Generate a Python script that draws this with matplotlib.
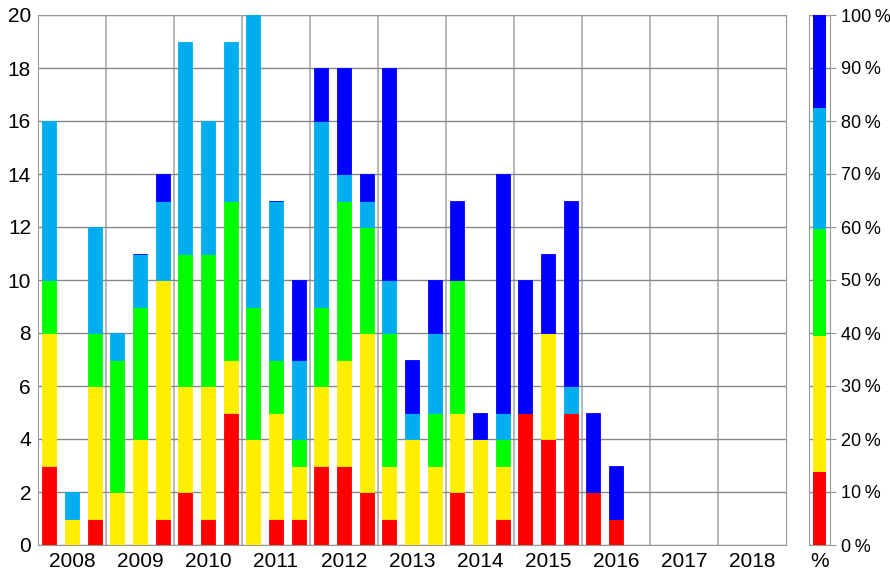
import numpy as np
import matplotlib
matplotlib.use("Agg")
import matplotlib.pyplot as plt

# one bar per third of a year, 2008 .. 2016 (nan = segment not present, 0 = empty segment)
nan = np.nan
years = list(range(2008, 2019))
red = [3, 0, 1, 0, 0, 1, 2, 1, 5, 0, 1, 1, 3, 3, 2, 1, 0, 0, 2, 0, 1, 5, 4, 5, 2, 1]
yellow = [5, 1, 5, 2, 4, 9, 4, 5, 2, 4, 4, 2, 3, 4, 6, 2, 4, 3, 3, 4, 2, nan, 4, nan, nan, nan]
green = [2, nan, 2, 5, 5, nan, 5, 5, 6, 5, 2, 1, 3, 6, 4, 5, nan, 2, 5, nan, 1, nan, nan, nan, nan, nan]
lightblue = [6, 1, 4, 1, 2, 3, 8, 5, 6, 11, 6, 3, 7, 1, 1, 2, 1, 3, 0, 0, 1, 0, 0, 1, 0, 0]
blue = [nan, nan, nan, nan, 0, 1, nan, nan, nan, nan, 0, 3, 2, 4, 1, 8, 2, 2, 3, 1, 9, 5, 3, 7, 3, 2]

series = [red, yellow, green, lightblue, blue]
colors = ["#ff0000", "#ffee00", "#00ff00", "#00aeef", "#0000ff"]
pct_ticks = list(range(0, 101, 10))

plt.rcParams["font.family"] = ["Liberation Sans", "DejaVu Sans"]
grid_col = "#999999"

fig = plt.figure(figsize=(8.9, 5.73), dpi=100)
ax = fig.add_axes([38 / 890, 28 / 573, 748 / 890, 530 / 573])
pax = fig.add_axes([809 / 890, 28 / 573, 21 / 890, 530 / 573])

n = len(red)
x = np.array([years[0] + (i + 0.5) / 3 for i in range(n)])
bottom = np.zeros(n)
for vals, col in zip(series, colors):
    v = np.array(vals, dtype=float)
    mask = ~np.isnan(v)
    ax.bar(x[mask], v[mask], bottom=bottom[mask], width=0.21, color=col,
           edgecolor=col, linewidth=0.6, zorder=3)
    bottom[mask] += v[mask]

ax.set_xlim(years[0], years[-1] + 1)
ax.set_ylim(0, 20)
ax.set_yticks(range(0, 21, 2))
ax.set_xticks([y + 0.5 for y in years])
ax.set_xticklabels([str(y) for y in years])
ax.set_xticks(years[1:], minor=True)
ax.grid(True, which="minor", axis="x", color="#aaaaaa", linewidth=1.2, zorder=0)
ax.grid(True, which="major", axis="y", color="#888888", linewidth=1.0, zorder=0)
ax.tick_params(length=0, labelsize=15, pad=5)
ax.tick_params(which="minor", length=0)
for s in ax.spines.values():
    s.set_color(grid_col)

# share of every colour over all bars
totals = np.array([np.nansum(np.array(s, dtype=float)) for s in series])
shares = totals / totals.sum() * 100
pb = 0.0
for sh, col in zip(shares, colors):
    pax.bar(0, sh, bottom=pb, width=0.65, color=col, linewidth=0, zorder=3)
    pb += sh
pax.set_xlim(-0.5, 0.5)
pax.set_ylim(0, 100)
pax.set_yticks(pct_ticks)
pax.set_yticklabels([f"{t}\u2009%" for t in pct_ticks])
pax.yaxis.tick_right()
pax.set_xticks([])
pax.set_xlabel("%", fontsize=15, labelpad=5)
pax.grid(True, axis="y", color="#888888", linewidth=1.0, zorder=0)
pax.tick_params(axis="y", length=4, color=grid_col, labelsize=13, pad=4)
for s in pax.spines.values():
    s.set_color(grid_col)

fig.savefig("out.png", dpi=100)
